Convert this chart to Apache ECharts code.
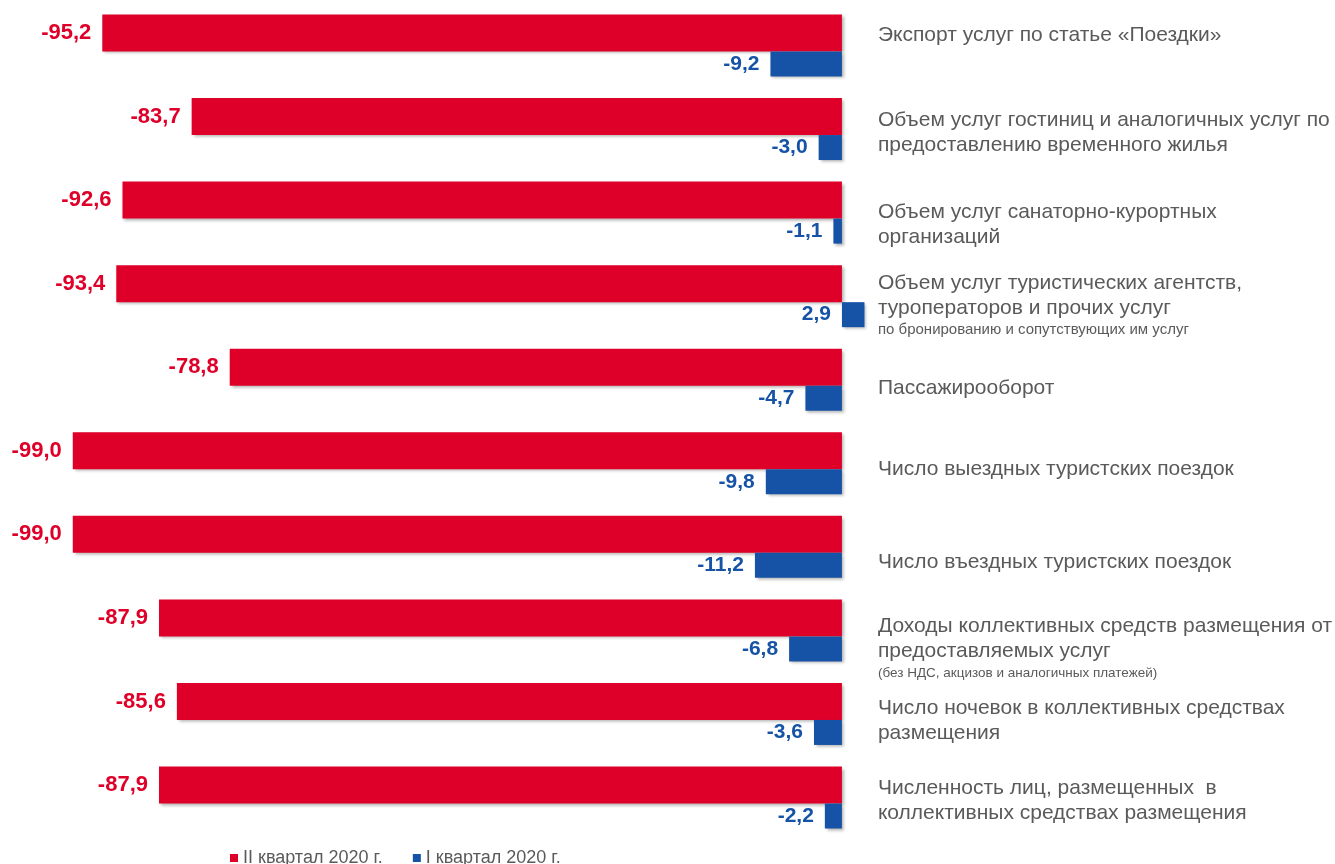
<!DOCTYPE html>
<html>
<head>
<meta charset="utf-8">
<script src="https://cdn.jsdelivr.net/npm/echarts@6/dist/echarts.min.js"></script>
<style>
html,body{margin:0;padding:0;background:#fff;}
#chart{width:1335px;height:864px;}
</style>
</head>
<body>
<div id="chart"></div>
<script>
const categories = [
  'Экспорт услуг по статье «Поездки»',
  'Объем услуг гостиниц и аналогичных услуг по\nпредоставлению временного жилья',
  'Объем услуг санаторно-курортных\nорганизаций',
  'Объем услуг туристических агентств,\nтуроператоров и прочих услуг\n{s|по бронированию и сопутствующих им услуг}',
  'Пассажирооборот',
  'Число выездных туристских поездок',
  'Число въездных туристских поездок',
  'Доходы коллективных средств размещения от\nпредоставляемых услуг\n{xs|(без НДС, акцизов и аналогичных платежей)}',
  'Число ночевок в коллективных средствах\nразмещения',
  'Численность лиц, размещенных  в\nколлективных средствах размещения'
];
const q2Values = [-95.2, -83.7, -92.6, -93.4, -78.8, -99.0, -99.0, -87.9, -85.6, -87.9];
const q1Values = [-9.2, -3.0, -1.1, 2.9, -4.7, -9.8, -11.2, -6.8, -3.6, -2.2];
const seriesNames = ['II квартал 2020 г.', 'I квартал 2020 г.'];
// vertical nudges of category labels (px, positive = down)
const labelShift = [-10.5, 3.4, 12.4, 9, 8.3, 5.7, 15, 17.5, 6.5, 3];

const RED = '#DF0029';
const BLUE = '#1653A6';
const GRAY = '#5A5A5A';

const fmt = p => p.value.toFixed(1).replace('.', ',');

const yData = categories.map((c, i) => {
  const d = labelShift[i];
  return {
    value: c,
    textStyle: { padding: d >= 0 ? [2 * d, 0, 0, 0] : [0, 0, -2 * d, 0] }
  };
});

const chart = echarts.init(document.getElementById('chart'));
chart.setOption({
  animation: false,
  backgroundColor: '#fff',
  grid: { left: 65, right: 493, top: 3.7, bottom: 24.7, containLabel: false },
  legend: {
    data: seriesNames,
    left: 225, top: 844,
    itemWidth: 8, itemHeight: 8, itemGap: 30,
    icon: 'rect',
    textStyle: { color: GRAY, fontSize: 18, fontFamily: 'Liberation Sans' }
  },
  xAxis: {
    type: 'value', min: -100, max: 0,
    show: false
  },
  yAxis: {
    type: 'category',
    position: 'right',
    inverse: true,
    data: yData,
    axisLine: { show: false },
    axisTick: { show: false },
    splitLine: { show: false },
    axisLabel: {
      margin: 36,
      align: 'left',
      verticalAlign: 'middle',
      color: GRAY,
      fontSize: 21,
      lineHeight: 25,
      fontFamily: 'Liberation Sans',
      rich: {
        s: { fontSize: 15, lineHeight: 19, color: GRAY, fontFamily: 'Liberation Sans' },
        xs: { fontSize: 13.5, lineHeight: 18, color: GRAY, fontFamily: 'Liberation Sans' }
      }
    }
  },
  series: [
    {
      name: seriesNames[0],
      type: 'bar',
      data: q2Values,
      barWidth: 37,
      barGap: '0%',
      clip: false,
      itemStyle: { color: RED, shadowColor: 'rgba(0,0,0,0.3)', shadowBlur: 3, shadowOffsetX: 2, shadowOffsetY: 2 },
      label: {
        show: true, position: 'left', distance: 11,
        formatter: fmt,
        color: RED, fontSize: 22, fontWeight: 'bold', fontFamily: 'Liberation Sans'
      }
    },
    {
      name: seriesNames[1],
      type: 'bar',
      data: q1Values,
      barWidth: 25,
      barGap: '0%',
      clip: false,
      itemStyle: { color: BLUE, shadowColor: 'rgba(0,0,0,0.3)', shadowBlur: 3, shadowOffsetX: 2, shadowOffsetY: 2 },
      label: {
        show: true, position: 'left', distance: 11,
        formatter: fmt,
        color: BLUE, fontSize: 21, fontWeight: 'bold', fontFamily: 'Liberation Sans'
      }
    }
  ]
});
</script>
</body>
</html>
